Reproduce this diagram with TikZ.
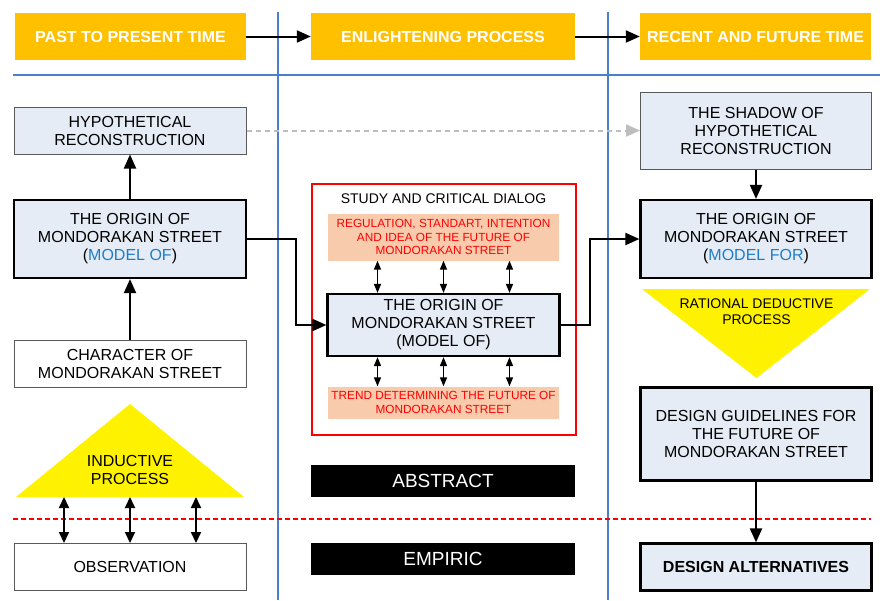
\documentclass[tikz,border=0pt]{standalone}
\usepackage{fontspec}
\setmainfont{Liberation Sans}
\usetikzlibrary{arrows.meta,positioning}

\definecolor{hdrorange}{HTML}{FFC000}
\definecolor{boxblue}{HTML}{E5ECF6}
\definecolor{sepblue}{HTML}{4A7FCC}
\definecolor{peach}{HTML}{F8CBAD}
\definecolor{modelblue}{HTML}{1F7CC8}
\definecolor{shadowgray}{HTML}{BDBDBD}

\begin{document}
\begin{tikzpicture}[x=1pt,y=-1pt,
    hdr/.style={fill=hdrorange, text=white, inner sep=0, minimum height=47,
      font=\bfseries\fontsize{16}{18}\selectfont},
    box/.style={draw=black!65, line width=1pt, fill=boxblue, align=center, inner sep=0,
      minimum width=232, font=\fontsize{16}{18}\selectfont},
    bbox/.style={box, draw=black, line width=2.2pt},
    wbox/.style={box, fill=white},
    peachbox/.style={fill=peach, text=red, align=center, inner sep=0,
      minimum width=231, font=\fontsize{11.8}{13.5}\selectfont},
    blkbox/.style={fill=black, text=white, inner sep=0, minimum width=264,
      minimum height=32, font=\fontsize{19}{21}\selectfont},
    tritext/.style={align=center, inner sep=0},
    arr/.style={line width=2pt, -{Triangle[length=14pt,width=12pt]}},
    dblarr/.style={line width=2pt, {Triangle[length=11pt,width=10pt]}-{Triangle[length=11pt,width=10pt]}},
    sdblarr/.style={line width=1.5pt, {Triangle[length=9pt,width=7pt]}-{Triangle[length=9pt,width=7pt]}},
    sepline/.style={sepblue, line width=2pt}]
  \useasboundingbox (0,0) rectangle (880,600);
  \def \shift {66}

  % separators
  \draw[sepline] (278,12) -- (278,600);
  \draw[sepline] (608,12) -- (608,600);
  \draw[sepline] (13,75) -- (880,75);
  \draw[red, line width=2pt, dash pattern=on 5pt off 3pt] (13,519) -- (871,519);

  % time headers
  \node[hdr, minimum width=231] (past) at (130.5,36.5) {PAST TO PRESENT TIME};
  \node[hdr, minimum width=264] (enlight) at (443,36.5) {ENLIGHTENING PROCESS};
  \node[hdr, minimum width=231] (future) at (755.5,36.5) {RECENT AND FUTURE TIME};
  \draw[arr] (past) -- (enlight);
  \draw[arr] (enlight) -- (future);

  % past to present
  \node[box, minimum height=47] (hypo) at (130,130.5) {HYPOTHETICAL\\RECONSTRUCTION};
  \node[bbox, minimum height=78] (originl) at (130,239)
    {THE ORIGIN OF\\MONDORAKAN STREET\\(\textcolor{modelblue}{MODEL OF})};
  \node[wbox, minimum height=47] (charac) at (130,364) {CHARACTER OF\\MONDORAKAN STREET};
  \fill[yellow] (130,404) -- (244,497) -- (16,497) -- cycle;
  \node[tritext, font=\fontsize{16}{17.5}\selectfont] (induct) at (130,470) {INDUCTIVE\\PROCESS};
  \coordinate (indbase) at (130,497);
  \node[wbox, minimum height=47] (obs) at (130,567) {OBSERVATION};
  \draw[arr] (charac) -- (originl);
  \draw[arr] (originl) -- (hypo);
  \foreach \dx in {-\shift,0,\shift}
    \draw[dblarr] ([xshift=\dx]indbase) -- ([xshift=\dx]obs.north);

  % enlightening process
  \node[draw=red, line width=2pt, minimum width=264, minimum height=251] (dialog) at (443.5,309.5) {};
  \node[font=\fontsize{14}{16}\selectfont, inner sep=0] (dialogtitle) at (443.5,199) {STUDY AND CRITICAL DIALOG};
  \node[peachbox, minimum height=47] (regul) at (443.5,237)
    {REGULATION, STANDART, INTENTION\\AND IDEA OF THE FUTURE OF\\MONDORAKAN STREET};
  \node[bbox, minimum height=62] (originc) at (443.5,325)
    {THE ORIGIN OF\\MONDORAKAN STREET\\(MODEL OF)};
  \node[peachbox, minimum height=32] (trend) at (443.5,402.5)
    {TREND DETERMINING THE FUTURE OF\\MONDORAKAN STREET};
  \foreach \dx in {-\shift,0,\shift}
  {
    \draw[sdblarr] ([xshift=\dx]regul.south) -- ([xshift=\dx]originc.north);
    \draw[sdblarr] ([xshift=\dx]originc.south) -- ([xshift=\dx]trend.north);
  }
  \node[blkbox] (abstr) at (443,481) {ABSTRACT};
  \node[blkbox] (empir) at (443,559.3) {EMPIRIC};

  % recent and future
  \node[box, minimum width=231, minimum height=77] (shadow) at (756,130.5)
    {THE SHADOW OF\\HYPOTHETICAL\\RECONSTRUCTION};
  \node[bbox, minimum width=231, minimum height=78] (originr) at (756,239)
    {THE ORIGIN OF\\MONDORAKAN STREET\\(\textcolor{modelblue}{MODEL FOR})};
  \fill[yellow] (642,289) -- (870,289) -- (756.5,378) -- cycle;
  \node[tritext, font=\fontsize{14}{15.5}\selectfont] (deduct) at (756.5,311.5) {RATIONAL DEDUCTIVE\\PROCESS};
  \node[bbox, minimum width=231, minimum height=93] (guide) at (756,434)
    {DESIGN GUIDELINES FOR\\THE FUTURE OF\\MONDORAKAN STREET};
  \node[bbox, minimum width=231, minimum height=47, font=\bfseries\fontsize{16}{18}\selectfont] (alt) at (756,567)
    {DESIGN ALTERNATIVES};
  \draw[arr] (shadow) -- (originr);
  \draw[arr] (guide) -- (alt);

  % links between columns
  \draw[line width=2pt, shadowgray, dash pattern=on 5pt off 4pt, -{Triangle[length=14pt,width=12pt]}] (hypo) -- (shadow);
  \draw[arr] (originl.east) -- ++(49,0) |- (originc.west);
  \draw[arr] (originc.east) -- ++(29,0) |- (originr.west);
\end{tikzpicture}
\end{document}
